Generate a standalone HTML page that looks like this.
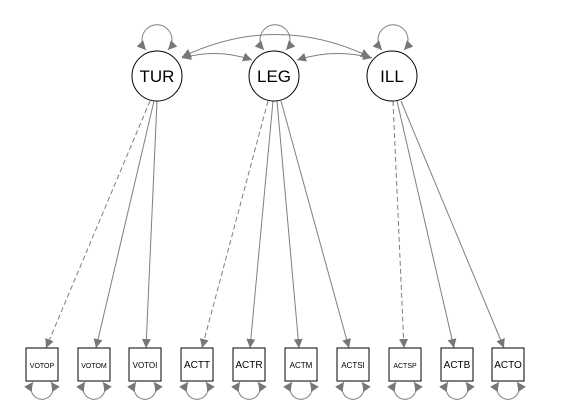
<!DOCTYPE html>
<html><head><style>body{margin:0;background:#fff}svg{display:block}</style></head><body>
<svg width="562" height="418" xmlns="http://www.w3.org/2000/svg" font-family="Liberation Sans, sans-serif">
<defs>
<marker id="a" viewBox="0 0 10 10" refX="10" refY="5" markerWidth="9" markerHeight="9" markerUnits="userSpaceOnUse" orient="auto-start-reverse">
<path d="M0,0L10,5L0,10z" fill="#777"/></marker>
</defs>
<g stroke="#7f7f7f" stroke-width="1" fill="none">
<!-- covariance arcs -->
<path d="M182,57 Q276,12 370,57" marker-start="url(#a)" marker-end="url(#a)"/>
<path d="M182,58 Q218,48 252,60" marker-start="url(#a)" marker-end="url(#a)"/>
<path d="M297,60 Q334,48 372,58" marker-start="url(#a)" marker-end="url(#a)"/>
<!-- self loops latent -->
<path d="M146,50 A15,15 0 1 1 168,50" marker-start="url(#a)" marker-end="url(#a)"/>
<path d="M264,50 A15,15 0 1 1 286,50" marker-start="url(#a)" marker-end="url(#a)"/>
<path d="M382,50 A15,15 0 1 1 404,50" marker-start="url(#a)" marker-end="url(#a)"/>
<!-- loadings -->
<path d="M150,101 L46,348" stroke-dasharray="5,3" marker-end="url(#a)"/>
<path d="M154,101 L96,348" marker-end="url(#a)"/>
<path d="M157,101 L146,348" marker-end="url(#a)"/>
<path d="M268,101 L202,348" stroke-dasharray="5,3" marker-end="url(#a)"/>
<path d="M273,101 L250,348" marker-end="url(#a)"/>
<path d="M277,101 L299,348" marker-end="url(#a)"/>
<path d="M281,101 L349,348" marker-end="url(#a)"/>
<path d="M393,101 L404,348" stroke-dasharray="5,3" marker-end="url(#a)"/>
<path d="M397,101 L454,348" marker-end="url(#a)"/>
<path d="M401,101 L504,348" marker-end="url(#a)"/>
</g>
<g stroke="#000" stroke-width="1" fill="#fff">
<circle cx="157" cy="76" r="25"/>
<circle cx="274" cy="76" r="25"/>
<circle cx="392" cy="76" r="25"/>
</g>
<g font-size="17" text-anchor="middle" fill="#000">
<text x="157" y="82">TUR</text>
<text x="274" y="82">LEG</text>
<text x="392" y="82">ILL</text>
</g>
<g id="boxes"></g>
<g stroke="#000" fill="#fff">
<rect x="26" y="348" width="32" height="33"/>
<rect x="78" y="348" width="32" height="33"/>
<rect x="129" y="348" width="32" height="33"/>
<rect x="181" y="348" width="32" height="33"/>
<rect x="233" y="348" width="32" height="33"/>
<rect x="285" y="348" width="32" height="33"/>
<rect x="337" y="348" width="32" height="33"/>
<rect x="389" y="348" width="32" height="33"/>
<rect x="441" y="348" width="32" height="33"/>
<rect x="492" y="348" width="32" height="33"/>
</g>
<g text-anchor="middle" fill="#000">
<text x="42" y="368" font-size="7">VOTOP</text>
<text x="94" y="368" font-size="7">VOTOM</text>
<text x="145" y="368" font-size="8">VOTOI</text>
<text x="197" y="368" font-size="10">ACTT</text>
<text x="249" y="368" font-size="10">ACTR</text>
<text x="301" y="368" font-size="8">ACTM</text>
<text x="353" y="368" font-size="8">ACTSI</text>
<text x="405" y="368" font-size="7">ACTSP</text>
<text x="457" y="368" font-size="10">ACTB</text>
<text x="508" y="368" font-size="10">ACTO</text>
</g>
<g stroke="#7f7f7f" fill="none">
<path d="M33,382 A11,11 0 1 0 51,382" marker-start="url(#a)" marker-end="url(#a)"/>
<path d="M85,382 A11,11 0 1 0 103,382" marker-start="url(#a)" marker-end="url(#a)"/>
<path d="M136,382 A11,11 0 1 0 154,382" marker-start="url(#a)" marker-end="url(#a)"/>
<path d="M188,382 A11,11 0 1 0 206,382" marker-start="url(#a)" marker-end="url(#a)"/>
<path d="M240,382 A11,11 0 1 0 258,382" marker-start="url(#a)" marker-end="url(#a)"/>
<path d="M292,382 A11,11 0 1 0 310,382" marker-start="url(#a)" marker-end="url(#a)"/>
<path d="M344,382 A11,11 0 1 0 362,382" marker-start="url(#a)" marker-end="url(#a)"/>
<path d="M396,382 A11,11 0 1 0 414,382" marker-start="url(#a)" marker-end="url(#a)"/>
<path d="M448,382 A11,11 0 1 0 466,382" marker-start="url(#a)" marker-end="url(#a)"/>
<path d="M499,382 A11,11 0 1 0 517,382" marker-start="url(#a)" marker-end="url(#a)"/>
</g>
</svg>
</body></html>
